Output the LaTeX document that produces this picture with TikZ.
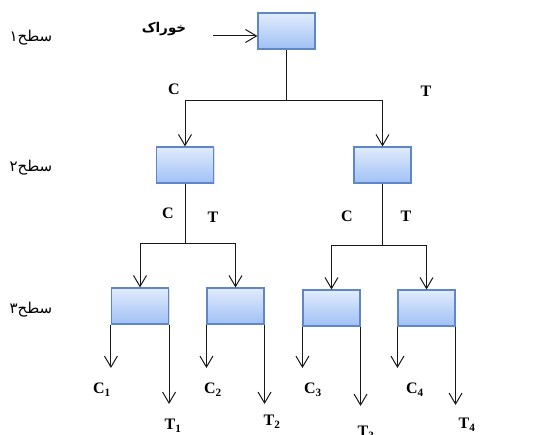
\documentclass[tikz,border=0pt]{standalone}
\usepackage{fontspec}
\setmainfont{Liberation Serif}
\newfontfamily\arabicfont[Script=Arabic]{DejaVu Sans}
\TeXXeTstate=1
\usetikzlibrary{arrows.meta,shadows}
\begin{document}
\begin{tikzpicture}[x=1pt,y=-1pt,
  box/.style={draw={rgb,255:red,95;green,135;blue,200},line width=1.1pt,
    top color={rgb,255:red,225;green,236;blue,252},
    bottom color={rgb,255:red,160;green,192;blue,245},
    minimum width=57pt,minimum height=36pt,inner sep=0pt,
    drop shadow={shadow xshift=1.2pt,shadow yshift=-1.2pt,opacity=0.25}},
  conn/.style={draw={rgb,255:red,25;green,25;blue,25},line width=1pt},
  arr/.style={conn,-{Straight Barb[length=11pt,width=13pt,line width=1pt]}},
  lab/.style={font=\fontsize{16}{17}\selectfont\bfseries,inner sep=0pt},
  lvl/.style={font=\arabicfont\fontsize{15}{16}\selectfont,inner sep=0pt},
]
\useasboundingbox (0,0) rectangle (544,435);
% boxes
\node[box] (top) at (286.5,31) {};
\node[box] (L) at (185,165) {};
\node[box] (R) at (382.5,165) {};
\node[box] (b1) at (140,306) {};
\node[box] (b2) at (235.5,306) {};
\node[box] (b3) at (331.5,308) {};
\node[box] (b4) at (426.5,308) {};
% level labels
\node[lvl] (s1) at (31,38) {\beginR سطح۱\endR};
\node[lvl] (s2) at (31,168) {\beginR سطح۲\endR};
\node[lvl] (s3) at (31,310) {\beginR سطح۳\endR};
% feed
\node[lvl,font=\arabicfont\bfseries\fontsize{13.5}{14}\selectfont] (feed) at (164,29) {\beginR خوراک\endR};
\coordinate (fs) at (213,36);
\draw[arr] (fs) -- (fs -| top.west);
% level 1 -> 2
\coordinate (j1) at (286.5,101);
\draw[conn] (top.south) -- (j1);
\draw[arr] (j1) -| (L.north);
\draw[arr] (j1) -| (R.north);
% level 2 -> 3
\coordinate (jL) at (185,244);
\coordinate (jR) at (382.5,246);
\draw[conn] (L.south) -- (jL);
\draw[conn] (R.south) -- (jR);
\draw[arr] (jL) -| (b1.north);
\draw[arr] (jL) -| (b2.north);
\draw[arr] (jR) -| (b3.north);
\draw[arr] (jR) -| (b4.north);
% outputs
\coordinate (c1) at (b1.south west |- 0,368);
\coordinate (t1) at (b1.south east |- 0,404);
\coordinate (c2) at (b2.south west |- 0,368);
\coordinate (t2) at (b2.south east |- 0,404);
\coordinate (c3) at (b3.south west |- 0,368);
\coordinate (t3) at (b3.south east |- 0,406);
\coordinate (c4) at (b4.south west |- 0,368);
\coordinate (t4) at (b4.south east |- 0,405);
\foreach \b/\c/\t in {b1/c1/t1,b2/c2/t2,b3/c3/t3,b4/c4/t4}{
  \draw[arr] (\b.south west) -- (\c);
  \draw[arr] (\b.south east) -- (\t);
}
% branch labels
\node[lab] (lc0) at (174,89) {C};
\node[lab] (lt0) at (426,91) {T};
\node[lab] (lcL) at (168,213) {C};
\node[lab] (ltL) at (213,217) {T};
\node[lab] (lcR) at (347,216) {C};
\node[lab] (ltR) at (406,216) {T};
\node[lab] (o1) at (102,390) {C\textsubscript{1}};
\node[lab] (o2) at (213,390) {C\textsubscript{2}};
\node[lab] (o3) at (313,390) {C\textsubscript{3}};
\node[lab] (o4) at (415,390) {C\textsubscript{4}};
\node[lab] (p1) at (173,426) {T\textsubscript{1}};
\node[lab] (p2) at (272,422) {T\textsubscript{2}};
\node[lab] (p3) at (366,433) {T\textsubscript{3}};
\node[lab] (p4) at (467,425) {T\textsubscript{4}};
\end{tikzpicture}
\end{document}
